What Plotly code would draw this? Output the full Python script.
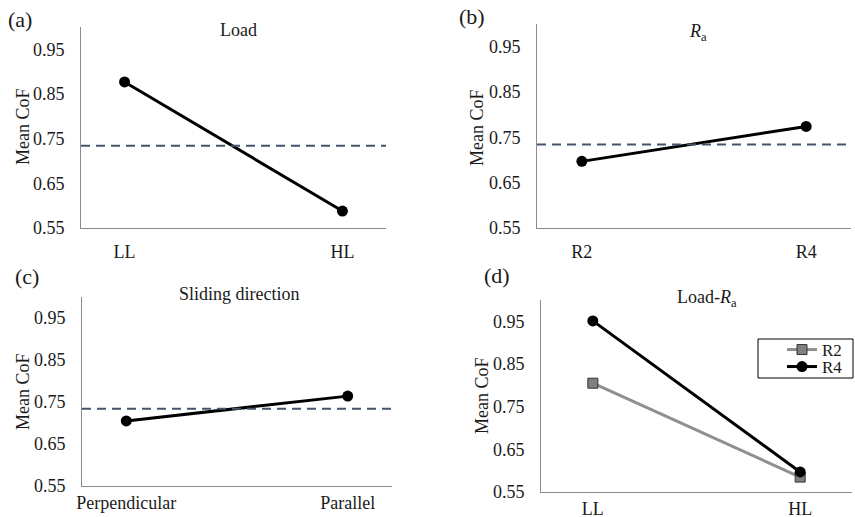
import plotly.graph_objects as go

W, H = 855, 517

# ---- data ----
load_cats = ["LL", "HL"]
load_vals = [0.877, 0.588]

ra_cats = ["R2", "R4"]
ra_vals = [0.697, 0.774]

dir_cats = ["Perpendicular", "Parallel"]
dir_vals = [0.705, 0.764]

inter_cats = ["LL", "HL"]
inter_r2 = [0.805, 0.585]
inter_r4 = [0.951, 0.597]

grand_mean = 0.734
ytick_vals = [0.55, 0.65, 0.75, 0.85, 0.95]
ytick_text = ["0.55", "0.65", "0.75", "0.85", "0.95"]

FONT = "Liberation Serif"
TXT = "#1a1a1a"
AXC = "#8c8c8c"
DASHC = "#44546A"

def xd(a, b):
    return [a / W, b / W]

def yd(top, bot):
    return [1 - bot / H, 1 - top / H]

fig = go.Figure()

panels = [
    # (axis id, domain x, domain y, xrange pad, x label standoff)
    ("", xd(81, 386), yd(27, 228), 0.2, 7),
    ("2", xd(537, 851), yd(24, 228), 0.2, 7),
    ("3", xd(82, 392), yd(297, 486), 0.2, 0),
    ("4", xd(541, 852), yd(300, 492), 0.25, 0),
]

for pid, dx, dy, pad, so in panels:
    fig.update_layout(**{
        "xaxis" + pid: dict(domain=dx, anchor="y" + pid, type="category",
                             range=[-pad, 1 + pad], showline=True, linecolor=AXC,
                             linewidth=1, showgrid=False, zeroline=False, ticks="",
                             ticklabelstandoff=so, automargin=False,
                             tickfont=dict(family=FONT, size=18, color=TXT)),
        "yaxis" + pid: dict(domain=dy, anchor="x" + pid, range=[0.55, 1.0],
                             tickvals=ytick_vals, ticktext=ytick_text,
                             showline=True, linecolor=AXC, linewidth=1,
                             showgrid=False, zeroline=False, ticks="",
                             ticklabelstandoff=12, automargin=False,
                             tickfont=dict(family=FONT, size=18, color=TXT)),
    })

def single(cats, vals, pid):
    fig.add_trace(go.Scatter(
        x=cats, y=vals, mode="lines+markers",
        line=dict(color="black", width=3),
        marker=dict(symbol="circle", size=11, color="black"),
        xaxis="x" + pid, yaxis="y" + pid, showlegend=False))

single(load_cats, load_vals, "")
single(ra_cats, ra_vals, "2")
single(dir_cats, dir_vals, "3")

fig.add_trace(go.Scatter(
    x=inter_cats, y=inter_r2, mode="lines+markers", name="R2",
    line=dict(color="#8f8f8f", width=3),
    marker=dict(symbol="square", size=10, color="#7f7f7f",
                line=dict(color="#333333", width=1)),
    xaxis="x4", yaxis="y4", legend="legend"))
fig.add_trace(go.Scatter(
    x=inter_cats, y=inter_r4, mode="lines+markers", name="R4",
    line=dict(color="black", width=3),
    marker=dict(symbol="circle", size=11, color="black"),
    xaxis="x4", yaxis="y4", legend="legend2"))

# grand mean dashed lines in panels a-c
for pid in ["", "2", "3"]:
    fig.add_shape(type="line", xref=("x" + pid) + " domain", yref="y" + pid,
                  x0=0, x1=1, y0=grand_mean, y1=grand_mean,
                  line=dict(color=DASHC, width=2, dash="9px,6px"))

# legend frame
fig.add_shape(type="rect", xref="paper", yref="paper",
              x0=758 / W, x1=853 / W, y0=1 - 378 / H, y1=1 - 339 / H,
              line=dict(color="black", width=1), fillcolor="rgba(0,0,0,0)")

def ann(text, x, y, size=18, angle=0):
    fig.add_annotation(text=text, x=x / W, y=1 - y / H, xref="paper", yref="paper",
                       showarrow=False, xanchor="center", yanchor="middle",
                       textangle=angle, font=dict(family=FONT, size=size, color=TXT))

# panel letters
ann("(a)", 20, 19, 22)
ann("(b)", 472, 16, 22)
ann("(c)", 27, 276, 22)
ann("(d)", 497, 275, 22)
# titles
ann("Load", 238, 30)
ann("<i>R</i><sub>a</sub>", 698, 33)
ann("Sliding direction", 239, 294)
ann("Load-<i>R</i><sub>a</sub>", 707, 298)
# y titles
for x, y in [(23, 127), (477, 127), (23, 392), (482, 396)]:
    ann("Mean CoF", x, y, 18, -90)

leg_common = dict(xanchor="left", yanchor="middle", borderwidth=0,
                  bgcolor="rgba(0,0,0,0)",
                  font=dict(family=FONT, size=17, color=TXT),
                  itemwidth=30)
fig.update_layout(
    width=W, height=H, margin=dict(l=0, r=0, t=0, b=0, autoexpand=False),
    paper_bgcolor="white", plot_bgcolor="white",
    font=dict(family=FONT, size=18, color=TXT),
    legend=dict(x=782 / W, y=1 - 350 / H, **leg_common),
    legend2=dict(x=782 / W, y=1 - 367 / H, **leg_common),
)

fig.write_html("out.html", config={"displayModeBar": False},
               post_script="document.body.style.margin='0';document.body.style.overflow='hidden';")
